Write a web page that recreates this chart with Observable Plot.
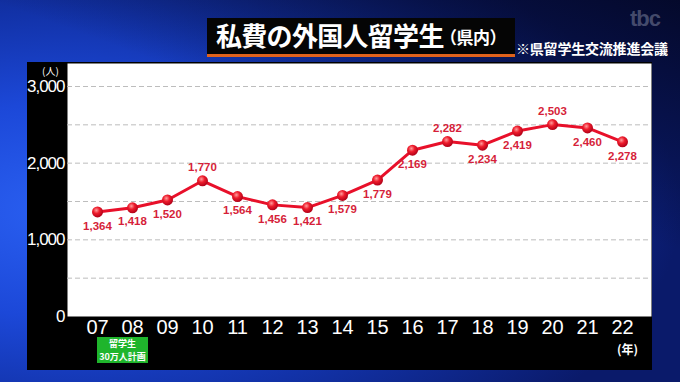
<!DOCTYPE html>
<html><head><meta charset="utf-8">
<script src="https://cdn.jsdelivr.net/npm/d3@7"></script>
<script src="https://cdn.jsdelivr.net/npm/@observablehq/plot@0.6"></script>
<style>
html,body{margin:0;padding:0;}
body{width:680px;height:382px;position:relative;overflow:hidden;
  background:
   linear-gradient(200deg, rgba(4,8,40,0.95) 0%, rgba(4,8,40,0) 40%),
   radial-gradient(ellipse 90% 80% at 10% 55%, #2a60f2 0%, #1c48d8 35%, #1232a8 65%, #0a1a6a 100%);
  font-family:"Noto Sans CJK JP",sans-serif;}
#chart{position:absolute;left:27px;top:62px;}
#title{position:absolute;left:207px;top:18px;width:308px;height:36px;background:#050505;
  border-bottom:3px solid #e0621c;color:#fff;font-weight:bold;white-space:nowrap;box-sizing:content-box;}
#title .main{position:absolute;left:9px;top:-2px;font-size:26px;line-height:38px;letter-spacing:-0.7px;}
#title .sub{position:absolute;left:233px;top:0px;font-size:17px;line-height:38px;letter-spacing:-0.5px;}
#source{position:absolute;left:516px;top:38px;color:#fff;font-size:14px;font-weight:bold;white-space:nowrap;letter-spacing:-0.2px;}
#logo{position:absolute;left:630px;top:6px;color:rgba(190,195,215,0.35);font-family:"Liberation Sans",Arial,sans-serif;font-weight:bold;font-size:22px;letter-spacing:-1px;}
#unitY{position:absolute;left:42px;top:63px;color:#fff;font-size:10px;}
#unitX{position:absolute;left:617px;top:340px;color:#fff;font-size:12px;font-weight:bold;}
#plan{position:absolute;left:97px;top:337px;width:51px;height:26px;background:#1fb52c;color:#fff;
  font-weight:bold;text-align:center;}
#plan div{position:absolute;left:0;width:51px;height:13px;line-height:13px;font-size:9px;}
#plan .l1{top:0px;}
#plan .l2{top:13px;}
</style></head><body>
<div id="title"><span class="main">私費の外国人留学生</span><span class="sub">（県内）</span></div>
<div id="source">※県留学生交流推進会議</div>
<div id="logo">tbc</div>
<div id="chart"></div>
<div id="unitY">(人)</div>
<div id="unitX">(年)</div>
<div id="plan"><div class="l1">留学生</div><div class="l2">30万人計画</div></div>
<script>
const years = ["07","08","09","10","11","12","13","14","15","16","17","18","19","20","21","22"];
const values = [1364,1418,1520,1770,1564,1456,1421,1579,1779,2169,2282,2234,2419,2503,2460,2278];
const labelAbove = ["10","17","20"];
const yTicks = [0,1000,2000,3000];
const gridValues = [500,1000,1500,2000,2500,3000];

const data = years.map((year,i)=>({year, value: values[i], above: labelAbove.includes(year)}));
const fmt = d3.format(",");

const svg = Plot.plot({
  width: 625, height: 308,
  marginTop: 1, marginLeft: 40, marginRight: 1, marginBottom: 54,
  style: {background: "#000", color: "#fff", fontFamily: "'Liberation Sans', Arial, sans-serif", overflow: "visible"},
  x: {type: "point", domain: years, padding: 0.66, label: null},
  y: {domain: [0, 3300], label: null},
  marks: [
    Plot.frame({fill: "#fff", stroke: null}),
    Plot.ruleY(gridValues, {stroke: "#bdbdbd", strokeDasharray: "5,3", strokeWidth: 1}),
    Plot.axisY(yTicks, {tickSize: 0, tickPadding: 3, tickFormat: fmt, fontSize: 17, fill: "#fff", label: null}),
    Plot.axisX({tickSize: 0, tickPadding: 3, fontSize: 20, fill: "#fff", label: null}),
    Plot.line(data, {x: "year", y: "value", stroke: "#e8102a", strokeWidth: 3}),
    Plot.dot(data, {x: "year", y: "value", r: 5.5, fill: "url(#dotg)", stroke: null}),
    Plot.text(data.filter(d => d.above), {x: "year", y: "value", text: d => fmt(d.value), dy: -13,
      fill: "#d61f3a", fontSize: 11.5, fontWeight: "bold"}),
    Plot.text(data.filter(d => !d.above), {x: "year", y: "value", text: d => fmt(d.value), dy: 14,
      fill: "#d61f3a", fontSize: 11.5, fontWeight: "bold"})
  ]
});
d3.select(svg).insert("defs", ":first-child").html(
  '<radialGradient id="dotg" cx="40%" cy="35%" r="65%">' +
  '<stop offset="0" stop-color="#ff9c9c"/><stop offset="0.45" stop-color="#ee1c2c"/>' +
  '<stop offset="1" stop-color="#b00018"/></radialGradient>');
d3.select(svg).selectAll("g[aria-label='y-axis tick label'] text").attr("letter-spacing", "-1");
document.getElementById("chart").appendChild(svg);
</script>
</body></html>
